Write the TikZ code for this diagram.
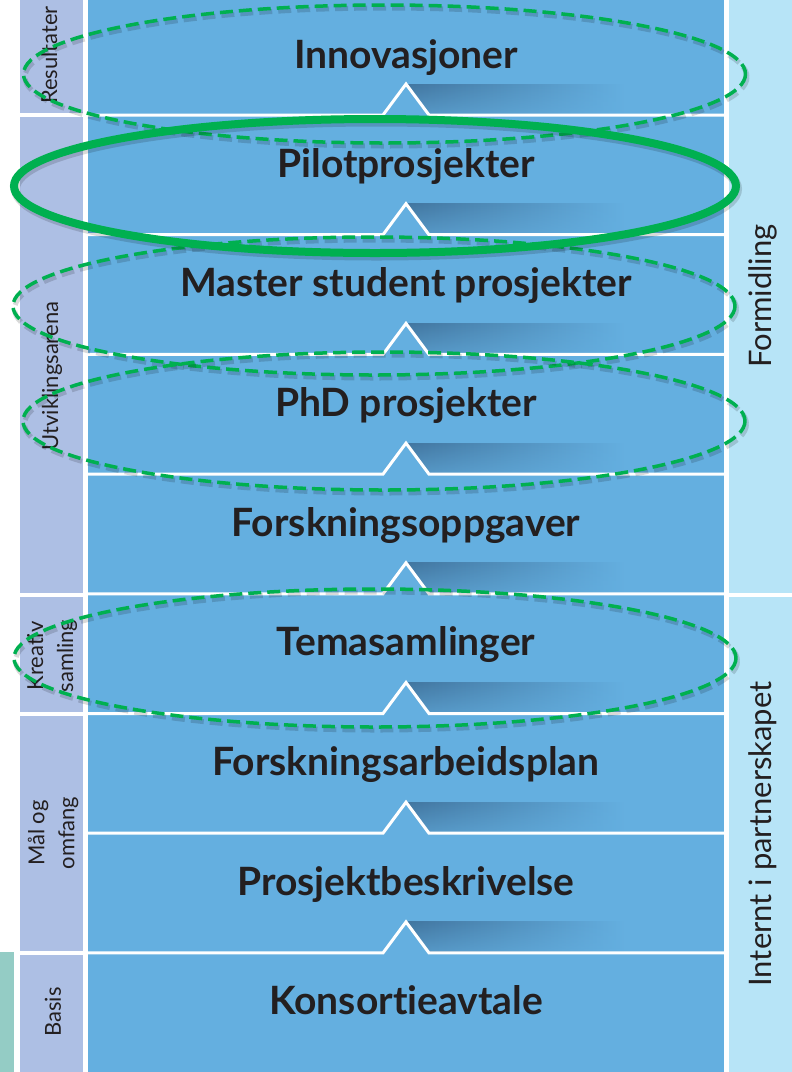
\documentclass[tikz,border=0pt]{standalone}
\usepackage{fontspec}
\setmainfont{Lato}[Ligatures=NoCommon]
\usepackage{tikz}
\usetikzlibrary{positioning,fadings}
\usepackage{xcolor}
\definecolor{rowblue}{RGB}{100,175,224}
\definecolor{foldblue}{RGB}{66,118,160}
\definecolor{sidelav}{RGB}{173,191,228}
\definecolor{sidesky}{RGB}{183,228,247}
\definecolor{tealbar}{RGB}{148,204,197}
\definecolor{rimgreen}{RGB}{0,176,80}
\definecolor{inkdark}{RGB}{35,31,32}

\begin{document}
\begin{tikzpicture}[x=1pt,y=-1pt,
  lvl/.style={anchor=base, text=inkdark, font=\fontsize{39}{44}\selectfont\bfseries},
  lbl/.style={rotate=90, align=center, text=inkdark, font=\fontsize{22}{30}\selectfont},
  rlbl/.style={rotate=90, text=inkdark, font=\fontsize{31}{34}\selectfont},
  ring/.style={draw=rimgreen, line width=3.5pt, dash pattern=on 13pt off 6pt},
  pring/.style={draw=rimgreen, line width=8pt},
  shd/.style={draw=black, opacity=0.15, line width=5pt, shift={(1.5,3)}}]
\useasboundingbox (0,0) rectangle (792,1072);
\fill[rowblue] (88,0) rectangle (724,1072);
\foreach \a/\b in {0/113,117/593,597/712,716/951,955/1072}
  \fill[sidelav] (20,\a) rectangle (83,\b);
\fill[sidesky] (729,0) rectangle (792,593);
\fill[sidesky] (729,597) rectangle (792,1072);
\fill[tealbar] (0,952) rectangle (14,1072);
\foreach \s in {115,234.7,354.4,474.1,593.8,713.5,833.2,952.9}{
  \shade[left color=foldblue, right color=rowblue] (406,\s-31) rectangle (625,\s-1.5);
  \fill[rowblue, fill opacity=0.55, path fading=north] (406,\s-31) rectangle (625,\s-1.5);
  \fill[rowblue] (383,\s) -- (406,\s-31) -- (429,\s) -- cycle;
  \draw[white, line width=3pt] (88,\s) -- (383,\s) -- (406,\s-31) -- (429,\s) -- (724,\s);
}
\foreach \n/\y/\t in {innov/68/Innovasjoner, pilot/177/Pilotprosjekter,
  master/296.7/Master student prosjekter, phd/416.4/PhD prosjekter,
  oppg/536.1/Forskningsoppgaver, tema/655.8/Temasamlinger,
  plan/775.5/Forskningsarbeidsplan, beskr/895.2/Prosjektbeskrivelse,
  avtale/1014.9/Konsortieavtale}
  \node[lvl] (\n) at (406,\y) {\t};
\node[lbl] (res) at (49,55) {Resultater};
\node[lbl] (utv) at (52,376) {Utviklingsarena};
\node[lbl] (krea) at (52,656) {Kreativ\\samling};
\node[lbl] (maal) at (53,833) {Mål og\\omfang};
\node[lbl] (basis) at (53,1012) {Basis};
\node[rlbl] (form) at (763,296) {Formidling};
\node[rlbl] (intern) at (763,834) {Internt i partnerskapet};
\foreach \cx/\cy in {384.5/74,374/306,384/421,375/658}{
  \draw[shd, dash pattern=on 13pt off 6pt] (\cx,\cy) ellipse [x radius=361, y radius=69];
  \draw[ring] (\cx,\cy) ellipse [x radius=361, y radius=69];
}
\draw[shd, line width=9pt] (375,186) ellipse [x radius=361, y radius=67];
\draw[pring] (375,186) ellipse [x radius=361, y radius=67];
\end{tikzpicture}
\end{document}
